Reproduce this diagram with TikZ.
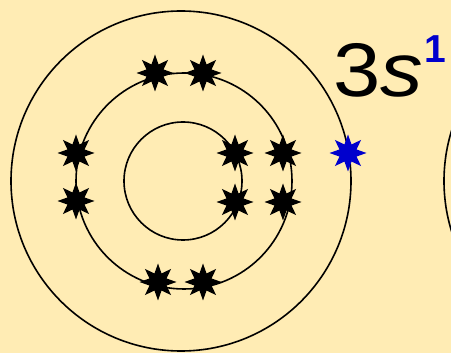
\documentclass[tikz,border=0pt]{standalone}
\usepackage{fontspec}
\setmainfont{Liberation Sans}
\usetikzlibrary{shapes.geometric}
\definecolor{bgc}{RGB}{255,236,180}
\definecolor{eblue}{RGB}{0,0,205}
\tikzset{
  orbit/.style={draw=black, line width=1.6pt},
  elec/.style={star, star points=8, star point ratio=2.0, minimum size=37pt, inner sep=0pt, fill=black, draw=none},
  velec/.style={elec, fill=eblue},
}
\begin{document}
\begin{tikzpicture}[x=1pt,y=-1pt]
\fill[bgc] (0,0) rectangle (451,353);
\useasboundingbox (0,0) rectangle (451,353);
\clip (0,0) rectangle (451,353);
% shells
\draw[orbit] (183,181) circle[radius=59];
\draw[orbit] (184,181) circle[radius=108];
\draw[orbit] (181,181) circle[radius=170];
\draw[orbit] (614,181) circle[radius=170];
% electrons
\node[elec] (e1) at (155,73) {};
\node[elec] (e2) at (203,73) {};
\node[elec] (e3) at (158,282) {};
\node[elec] (e4) at (203,282) {};
\node[elec] (e5) at (76,153) {};
\node[elec] (e6) at (76,201) {};
\node[elec] (e7) at (235,153) {};
\node[elec] (e8) at (235,202) {};
\node[elec] (e9) at (283,153) {};
\node[elec] (e10) at (283,202) {};
\node[velec] (v1) at (348,153) {};
% label
\node[anchor=base west, inner sep=0pt] (lbl) at (333,97) {\scalebox{1.12}[1]{\fontsize{76}{76}\selectfont 3\textit{s}}};
\node[anchor=base west, inner sep=0pt, text=eblue] (sup) at (424,63) {\fontsize{39}{39}\selectfont\bfseries 1};
\end{tikzpicture}
\end{document}
